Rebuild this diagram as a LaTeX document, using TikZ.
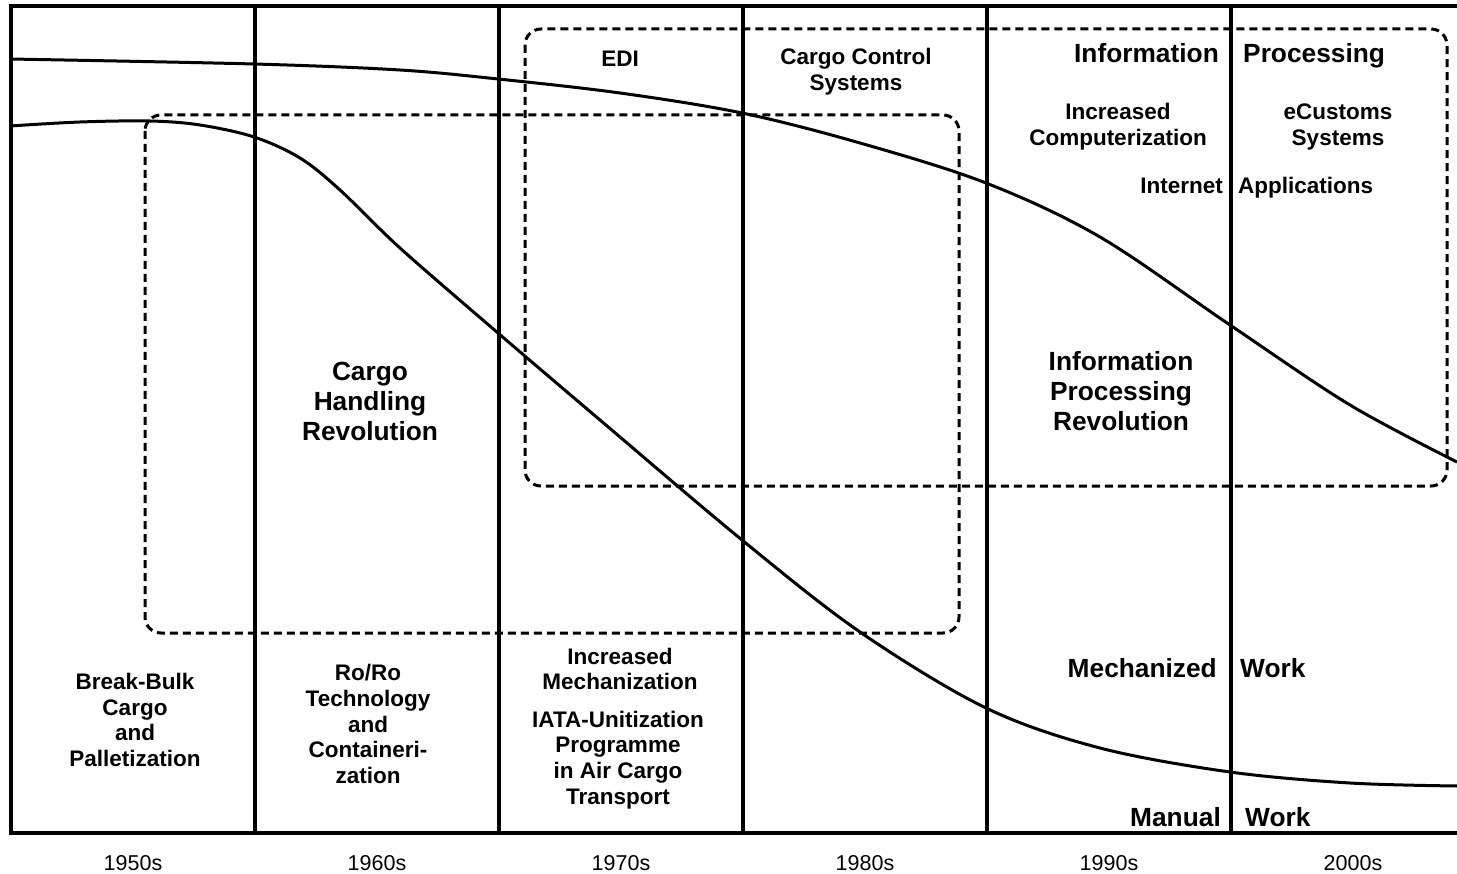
\documentclass[tikz,border=0pt]{standalone}
\usepackage{fontspec}
\setmainfont{Liberation Sans}
\begin{document}
\begin{tikzpicture}[x=1pt,y=-1pt,
  frame/.style={line width=4pt},
  curve/.style={line width=3pt},
  region/.style={line width=3pt, dash pattern=on 8pt off 5pt, rounded corners=16pt},
  small/.style={font=\bfseries\fontsize{22.5}{25.7}\selectfont, align=center, inner sep=0pt},
  big/.style={font=\bfseries\fontsize{26.3}{30}\selectfont, align=center, inner sep=0pt},
  year/.style={font=\fontsize{21.5}{26}\selectfont, inner sep=0pt}]
\useasboundingbox (0,0) rectangle (1457,874);
% frame and decade columns
\draw[frame] (1457,6) -- (11,6) -- (11,833) -- (1457,833);
\foreach \xx in {255,499,743,987,1231} \draw[frame] (\xx,6) -- (\xx,833);
% dashed regions
\draw[region] (145,115) rectangle (959,633);
\draw[region] (525,29) rectangle (1447,486);
% curves
\draw[curve] plot[smooth, tension=0.55] coordinates {(10,59) (254,64) (400,70) (498,79) (620,93) (742,113) (860,143) (986,183) (1100,237) (1230,325) (1350,405) (1457,462)};
\draw[curve] plot[smooth, tension=0.55] coordinates {(10,126) (80,122) (150,121) (200,125) (254,137) (300,158) (340,190) (400,248) (498,333) (600,420) (742,540) (860,632) (986,708) (1100,748) (1230,772) (1350,783) (1457,786)};
% labels
\node[small] (edi) at (620,59) {EDI};
\node[small] (ccs) at (856,72) {Cargo Control\\Systems};
\node[big, anchor=base east] (info) at (1219,62.5) {Information};
\node[big, anchor=base west] (proc) at (1243,62.5) {Processing};
\node[small] (icomp) at (1118,127) {Increased\\Computerization};
\node[small] (ecust) at (1338,127) {eCustoms\\Systems};
\node[small, anchor=base east] (inet) at (1223,194) {Internet};
\node[small, anchor=base west] (apps) at (1238,194) {Applications};
\node[big] (chr) at (370,401) {Cargo\\Handling\\Revolution};
\node[big] (ipr) at (1121,391) {Information\\Processing\\Revolution};
\node[small] (bb) at (135,720) {Break-Bulk\\Cargo\\and\\Palletization};
\node[small] (roro) at (368,724) {Ro/Ro\\Technology\\and\\Containeri-\\zation};
\node[small] (imech) at (620,669) {Increased\\Mechanization};
\node[small] (iata) at (618,760) {IATA-Unitization\\Programme\\in Air Cargo\\Transport};
\node[big, anchor=base east] (mech) at (1217,677) {Mechanized};
\node[big, anchor=base west] (mw) at (1240,677) {Work};
\node[big, anchor=base east] (man) at (1221,826) {Manual};
\node[big, anchor=base west] (manw) at (1245,826) {Work};
% decades
\node[year] (y50) at (133,863.5) {1950s};
\node[year] (y60) at (377,863.5) {1960s};
\node[year] (y70) at (621,863.5) {1970s};
\node[year] (y80) at (865,863.5) {1980s};
\node[year] (y90) at (1109,863.5) {1990s};
\node[year] (y00) at (1353,863.5) {2000s};
\end{tikzpicture}
\end{document}
